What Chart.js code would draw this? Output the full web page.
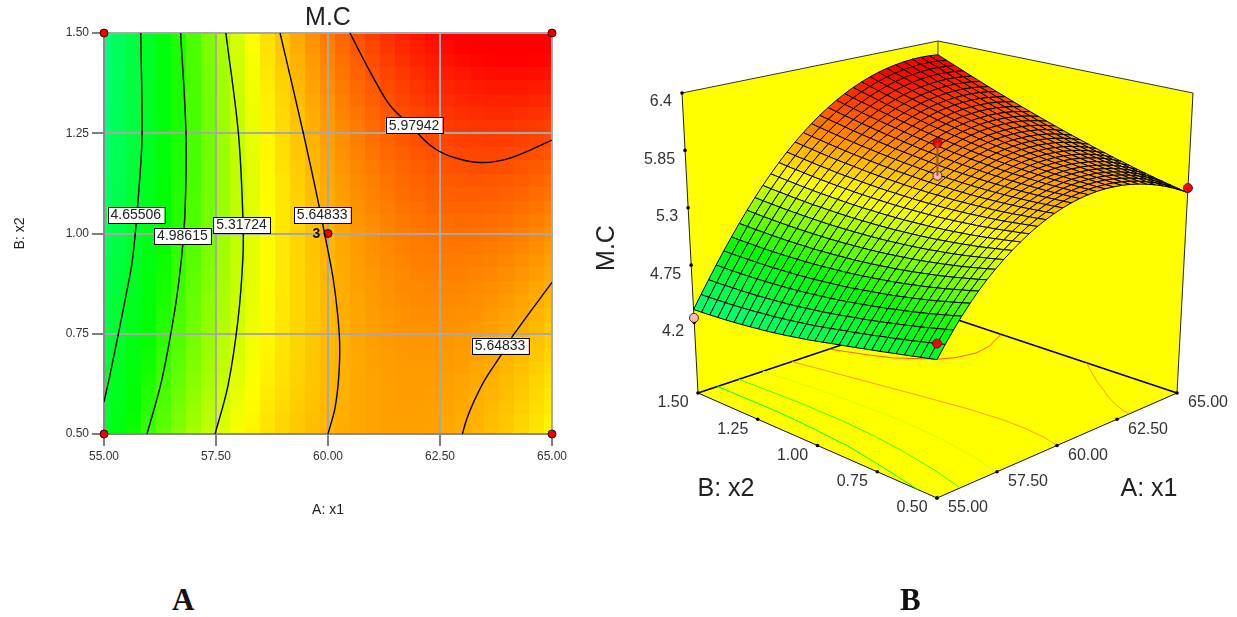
<!DOCTYPE html>
<html><head><meta charset="utf-8">
<script src="https://cdn.jsdelivr.net/npm/chart.js@4"></script>
<style>
html,body{margin:0;padding:0;background:#fff;width:1237px;height:617px;overflow:hidden}
canvas{position:absolute;top:0}
#ca{left:0}#cb{left:585px}
.letter{position:absolute;font:bold 31px "Liberation Serif",serif;color:#111;top:582px;line-height:36px}
</style></head><body>
<canvas id="cb" width="652" height="617"></canvas>
<canvas id="ca" width="585" height="525"></canvas>
<div class="letter" style="left:172px">A</div>
<div class="letter" style="left:900px">B</div>
<script>
// ---------- data ----------
const x1Grid=[55,55.333,55.667,56,56.333,56.667,57,57.333,57.667,58,58.333,58.667,59,59.333,59.667,60,60.333,60.667,61,61.333,61.667,62,62.333,62.667,63,63.333,63.667,64,64.333,64.667,65];
const x2Grid=[0.5,0.533,0.567,0.6,0.633,0.667,0.7,0.733,0.767,0.8,0.833,0.867,0.9,0.933,0.967,1,1.033,1.067,1.1,1.133,1.167,1.2,1.233,1.267,1.3,1.333,1.367,1.4,1.433,1.467,1.5];
// M.C estimates: one row per x2 value (0.50 first), one column per x1 value
const mcRows=[
[4.685,4.788,4.886,4.980,5.066,5.147,5.221,5.288,5.350,5.407,5.459,5.508,5.551,5.589,5.622,5.650,5.673,5.690,5.703,5.710,5.712,5.708,5.700,5.686,5.667,5.643,5.614,5.580,5.540,5.495,5.445],
[4.670,4.771,4.868,4.961,5.047,5.128,5.202,5.271,5.334,5.393,5.446,5.496,5.541,5.580,5.615,5.644,5.668,5.687,5.701,5.710,5.713,5.710,5.704,5.691,5.674,5.651,5.623,5.591,5.552,5.509,5.460],
[4.655,4.755,4.851,4.943,5.029,5.111,5.186,5.256,5.320,5.380,5.435,5.487,5.533,5.573,5.609,5.640,5.666,5.686,5.701,5.711,5.716,5.715,5.710,5.698,5.682,5.661,5.635,5.604,5.566,5.524,5.477],
[4.640,4.739,4.834,4.926,5.012,5.094,5.170,5.240,5.307,5.368,5.424,5.477,5.524,5.567,5.604,5.636,5.663,5.684,5.702,5.713,5.719,5.719,5.715,5.706,5.691,5.671,5.646,5.616,5.581,5.540,5.494],
[4.625,4.722,4.816,4.908,4.994,5.076,5.154,5.225,5.293,5.355,5.413,5.468,5.516,5.560,5.598,5.632,5.661,5.683,5.702,5.714,5.722,5.724,5.721,5.713,5.699,5.681,5.658,5.629,5.595,5.555,5.511],
[4.610,4.707,4.801,4.892,4.978,5.061,5.139,5.212,5.281,5.345,5.404,5.460,5.510,5.555,5.595,5.630,5.660,5.684,5.704,5.718,5.727,5.730,5.729,5.722,5.710,5.693,5.671,5.644,5.611,5.573,5.530],
[4.595,4.690,4.784,4.876,4.963,5.045,5.124,5.199,5.269,5.335,5.395,5.452,5.504,5.550,5.592,5.628,5.659,5.685,5.706,5.722,5.732,5.736,5.737,5.731,5.721,5.705,5.684,5.659,5.627,5.591,5.549],
[4.580,4.676,4.770,4.861,4.948,5.032,5.113,5.188,5.259,5.326,5.388,5.447,5.500,5.547,5.590,5.628,5.661,5.688,5.710,5.727,5.739,5.745,5.747,5.742,5.733,5.719,5.700,5.676,5.645,5.610,5.570],
[4.565,4.661,4.754,4.847,4.934,5.018,5.100,5.176,5.250,5.318,5.381,5.441,5.495,5.545,5.589,5.628,5.662,5.690,5.715,5.733,5.746,5.753,5.756,5.754,5.746,5.733,5.715,5.692,5.664,5.630,5.591],
[4.550,4.645,4.739,4.831,4.919,5.005,5.088,5.165,5.240,5.309,5.374,5.436,5.491,5.542,5.587,5.628,5.664,5.693,5.719,5.738,5.753,5.762,5.766,5.765,5.758,5.747,5.731,5.709,5.682,5.649,5.612],
[4.535,4.631,4.725,4.818,4.907,4.993,5.077,5.156,5.232,5.303,5.369,5.432,5.489,5.541,5.588,5.630,5.667,5.698,5.725,5.746,5.762,5.772,5.778,5.778,5.773,5.763,5.748,5.728,5.702,5.671,5.635],
[4.520,4.615,4.711,4.804,4.895,4.982,5.066,5.147,5.224,5.297,5.364,5.428,5.487,5.540,5.589,5.632,5.670,5.703,5.731,5.754,5.771,5.782,5.790,5.791,5.788,5.779,5.765,5.747,5.722,5.693,5.658],
[4.506,4.603,4.698,4.792,4.884,4.972,5.058,5.140,5.218,5.292,5.361,5.427,5.487,5.541,5.591,5.636,5.676,5.710,5.739,5.763,5.782,5.795,5.804,5.806,5.804,5.797,5.785,5.768,5.744,5.716,5.683],
[4.491,4.588,4.685,4.781,4.873,4.962,5.049,5.132,5.213,5.288,5.358,5.425,5.486,5.543,5.594,5.640,5.681,5.716,5.748,5.773,5.793,5.807,5.817,5.822,5.821,5.815,5.804,5.788,5.767,5.740,5.708],
[4.475,4.574,4.671,4.768,4.861,4.952,5.041,5.125,5.207,5.283,5.355,5.424,5.486,5.544,5.596,5.644,5.687,5.723,5.756,5.782,5.804,5.820,5.831,5.837,5.837,5.833,5.824,5.809,5.789,5.763,5.733],
[4.460,4.560,4.659,4.757,4.852,4.944,5.034,5.120,5.203,5.281,5.354,5.424,5.488,5.547,5.601,5.650,5.694,5.732,5.766,5.794,5.817,5.834,5.847,5.854,5.856,5.853,5.845,5.832,5.813,5.789,5.760],
[4.445,4.546,4.647,4.746,4.843,4.936,5.027,5.115,5.199,5.279,5.353,5.424,5.490,5.550,5.606,5.656,5.701,5.741,5.776,5.806,5.830,5.848,5.863,5.871,5.875,5.873,5.866,5.855,5.837,5.815,5.787],
[4.432,4.535,4.637,4.737,4.835,4.930,5.023,5.112,5.197,5.278,5.354,5.427,5.494,5.555,5.612,5.664,5.711,5.752,5.788,5.819,5.845,5.865,5.881,5.890,5.895,5.895,5.890,5.880,5.863,5.842,5.816],
[4.419,4.523,4.626,4.729,4.828,4.924,5.018,5.108,5.196,5.278,5.355,5.429,5.497,5.561,5.619,5.672,5.720,5.762,5.801,5.833,5.860,5.881,5.898,5.910,5.916,5.917,5.913,5.904,5.890,5.870,5.845],
[4.406,4.512,4.616,4.720,4.820,4.918,5.014,5.105,5.194,5.277,5.356,5.432,5.501,5.566,5.625,5.680,5.730,5.773,5.813,5.846,5.875,5.898,5.916,5.929,5.936,5.939,5.937,5.929,5.916,5.897,5.874],
[4.395,4.502,4.608,4.713,4.815,4.914,5.011,5.104,5.194,5.279,5.359,5.436,5.507,5.573,5.634,5.690,5.741,5.786,5.827,5.862,5.892,5.916,5.936,5.950,5.959,5.963,5.962,5.956,5.944,5.927,5.905],
[4.384,4.492,4.600,4.706,4.810,4.910,5.008,5.103,5.194,5.281,5.362,5.440,5.513,5.580,5.643,5.700,5.752,5.799,5.841,5.878,5.909,5.934,5.956,5.971,5.982,5.987,5.987,5.983,5.972,5.957,5.936],
[4.375,4.485,4.594,4.701,4.806,4.908,5.008,5.104,5.196,5.284,5.367,5.447,5.521,5.589,5.653,5.712,5.766,5.814,5.857,5.895,5.928,5.955,5.978,5.994,6.006,6.013,6.015,6.012,6.002,5.988,5.969],
[4.366,4.477,4.587,4.697,4.803,4.906,5.007,5.104,5.199,5.288,5.372,5.453,5.528,5.599,5.664,5.724,5.779,5.828,5.874,5.913,5.947,5.975,5.999,6.018,6.031,6.039,6.042,6.040,6.033,6.020,6.002],
[4.357,4.470,4.581,4.692,4.799,4.904,5.007,5.105,5.201,5.291,5.377,5.460,5.536,5.608,5.674,5.736,5.793,5.843,5.890,5.930,5.966,5.996,6.021,6.041,6.055,6.065,6.070,6.069,6.063,6.051,6.035],
[4.350,4.464,4.577,4.689,4.798,4.904,5.008,5.108,5.205,5.297,5.384,5.468,5.546,5.619,5.687,5.750,5.808,5.860,5.908,5.950,5.987,6.018,6.045,6.066,6.082,6.093,6.099,6.100,6.095,6.085,6.070],
[4.343,4.458,4.573,4.686,4.797,4.904,5.009,5.111,5.209,5.303,5.391,5.476,5.556,5.630,5.700,5.764,5.823,5.877,5.926,5.970,6.008,6.040,6.069,6.091,6.109,6.121,6.128,6.131,6.127,6.119,6.105],
[4.338,4.455,4.571,4.685,4.797,4.906,5.013,5.116,5.215,5.310,5.400,5.487,5.568,5.643,5.714,5.780,5.841,5.896,5.946,5.991,6.031,6.065,6.095,6.118,6.137,6.151,6.160,6.164,6.161,6.154,6.142],
[4.333,4.451,4.568,4.685,4.798,4.908,5.016,5.120,5.222,5.318,5.409,5.497,5.579,5.657,5.729,5.796,5.858,5.914,5.967,6.013,6.054,6.089,6.120,6.146,6.166,6.181,6.191,6.196,6.196,6.190,6.179],
[4.328,4.448,4.566,4.684,4.798,4.910,5.020,5.125,5.228,5.325,5.418,5.508,5.591,5.670,5.743,5.812,5.876,5.933,5.987,6.034,6.077,6.114,6.146,6.173,6.194,6.211,6.223,6.229,6.230,6.225,6.216],
[4.325,4.446,4.566,4.685,4.801,4.914,5.025,5.132,5.236,5.335,5.429,5.520,5.605,5.685,5.760,5.830,5.895,5.954,6.009,6.058,6.102,6.140,6.174,6.202,6.225,6.243,6.256,6.264,6.266,6.263,6.255]
];
// contour lines (x1, x2 pairs)
const levels=[4.65506,4.98615,5.31724,5.64833,5.64833,5.97942];
const contourX1=[
[55.82,55.85,55.80,55.64,55.47,55.27,55.11,55],
[56.71,56.83,56.81,56.73,56.58,56.29,55.96],
[57.72,58.0,58.10,58.10,57.99,57.77,57.48],
[58.93,59.45,59.82,59.93,60.12,60.25,60.25,60.16,60.0],
[63.0,63.09,63.24,63.50,63.84,64.14,65],
[60.49,60.98,61.38,61.83,62.28,62.72,63.39,64.06,65]];
const contourX2=[
[1.5,1.25,1.14,0.939,0.834,0.722,0.635,0.58],
[1.5,1.25,1.059,0.939,0.809,0.635,0.5],
[1.5,1.25,1.041,0.939,0.784,0.622,0.5],
[1.5,1.25,1.059,0.996,0.884,0.752,0.66,0.567,0.5],
[0.5,0.535,0.577,0.635,0.693,0.747,0.878],
[1.5,1.395,1.32,1.27,1.22,1.193,1.177,1.188,1.233]];
const labelText=["4.65506","4.98615","5.31724","5.64833","5.64833","5.97942"];
const labelX1=[55.71,56.75,58.07,59.87,63.84,61.92];
const labelX2=[1.046,0.994,1.021,1.046,0.72,1.27];
// design points
const designX1=[55,65,55,65,60];
const designX2=[0.5,0.5,1.5,1.5,1];
// points on the 3D view
const ptX1=[55,55,65,60,60];
const ptX2=[0.5,1.5,0.5,1,1];
const ptZ=[4.82,4.245,5.49,5.95,5.64];
const ptColor=["#ff0000","#ffb6b6","#ff0000","#ff0000","#ffb6b6"];
// axis ticks
const x1Ticks=[55,57.5,60,62.5,65];
const x2Ticks=[0.5,0.75,1,1.25,1.5];
const zTicks=[4.2,4.75,5.3,5.85,6.4];
const zLabels=["4.2","4.75","5.3","5.85","6.4"];

// ---------- colour ramp ----------
const stops=[[4.3,0,255,128],[4.85,0,255,0],[5.42,255,255,0],[6.2,255,0,0]];
function heat(z){
  if(z<=stops[0][0])return `rgb(${stops[0][1]},${stops[0][2]},${stops[0][3]})`;
  for(let i=1;i<stops.length;i++){
    if(z<=stops[i][0]){
      const a=stops[i-1],b=stops[i],t=(z-a[0])/(b[0]-a[0]);
      return `rgb(${a[1]+(b[1]-a[1])*t},${a[2]+(b[2]-a[2])*t},${a[3]+(b[3]-a[3])*t})`;
    }
  }
  return 'rgb(255,0,0)';
}
const FONT='"Liberation Sans",Arial,sans-serif';

// ---------- panel A ----------
const heatPlugin={id:'heat',beforeDraw(c){
  const g=c.ctx,sx=c.scales.x,sy=c.scales.y,n=x1Grid.length,m=x2Grid.length;
  const edge=(arr,i)=>i<=0?arr[0]:i>=arr.length?arr[arr.length-1]:(arr[i-1]+arr[i])/2;
  for(let j=0;j<m;j++)for(let i=0;i<n;i++){
    const l=sx.getPixelForValue(edge(x1Grid,i)),r=sx.getPixelForValue(edge(x1Grid,i+1));
    const b=sy.getPixelForValue(edge(x2Grid,j)),t=sy.getPixelForValue(edge(x2Grid,j+1));
    g.fillStyle=heat(mcRows[j][i]);
    g.fillRect(Math.floor(l),Math.floor(t),Math.ceil(r)-Math.floor(l),Math.ceil(b)-Math.floor(t));
  }
}};
const labelPlugin={id:'labels',afterDatasetsDraw(c){
  const g=c.ctx,sx=c.scales.x,sy=c.scales.y;
  g.save();g.font='14px '+FONT;g.textAlign='center';g.textBaseline='middle';
  labelText.forEach((s,i)=>{
    const x=sx.getPixelForValue(labelX1[i]),y=sy.getPixelForValue(labelX2[i]);
    const w=g.measureText(s).width+6;
    g.fillStyle='#fff';g.strokeStyle='#000';g.lineWidth=1;
    g.fillRect(x-w/2,y-8,w,16);g.strokeRect(Math.round(x-w/2)+.5,Math.round(y-8)+.5,Math.round(w),16);
    g.fillStyle='#222';g.fillText(s,x,y+.5);
  });
  g.font='bold 14px '+FONT;g.fillStyle='#111';
  g.fillText('3',sx.getPixelForValue(59.74),sy.getPixelForValue(0.998));
  g.restore();
}};
const contourSets=contourX1.map((xs,i)=>({
  type:'scatter',showLine:true,fill:false,tension:0.35,borderColor:'#000',borderWidth:1.4,pointRadius:0,
  data:xs.map((x,k)=>({x,y:contourX2[i][k]}))
}));
new Chart(document.getElementById('ca'),{
  type:'scatter',
  data:{datasets:[...contourSets,{
    label:'Design points',data:designX1.map((x,i)=>({x,y:designX2[i]})),
    pointRadius:4,pointBackgroundColor:'#f00000',pointBorderColor:'#400',pointBorderWidth:1,clip:false,showLine:false
  }]},
  plugins:[heatPlugin,labelPlugin],
  options:{
    responsive:false,animation:false,
    layout:{padding:{left:0,right:33,top:0,bottom:0},autoPadding:false},
    plugins:{legend:{display:false},tooltip:{enabled:false},
      title:{display:true,fullSize:false,text:'M.C',color:'#222',font:{family:FONT,size:25,weight:'normal'},padding:{top:3,bottom:0}}},
    scales:{
      x:{type:'linear',min:55,max:65,afterFit(s){s.height=91;},
        afterBuildTicks(s){s.ticks=x1Ticks.map(v=>({value:v}));},
        grid:{color:'#a8a8a8',lineWidth:2,tickLength:12,tickColor:'#000',tickWidth:1},border:{color:'#8a8a8a',width:2},
        ticks:{font:{family:FONT,size:12},color:'#333',maxRotation:0,callback:v=>v.toFixed(2)},
        title:{display:true,text:'A: x1',color:'#222',font:{family:FONT,size:14},padding:{top:0,bottom:6.6}}},
      y:{type:'linear',min:0.5,max:1.5,afterFit(s){s.width=104;},
        afterBuildTicks(s){s.ticks=x2Ticks.map(v=>({value:v}));},
        grid:{color:'#a8a8a8',lineWidth:2,tickLength:12,tickColor:'#000',tickWidth:1},border:{color:'#8a8a8a',width:2},
        ticks:{font:{family:FONT,size:12},color:'#333',callback:v=>v.toFixed(2)},
        title:{display:true,text:'B: x2',color:'#222',font:{family:FONT,size:14},padding:{top:11.6,bottom:0}}}
    }
  }
});

// ---------- panel B: view box of the 3D plot ----------
const view={floor:{F:[937,498],R:[1177,393],L:[698,393],B:[937,313]},
            top:{F:[937,155],R:[1193,93],L:[682,93],B:[938,41]},zMin:3.525,zMax:6.4};
function bilin(q,u,v,n){return (1-u)*(1-v)*q.F[n]+u*(1-v)*q.R[n]+(1-u)*v*q.L[n]+u*v*q.B[n];}
function project(x1,x2,z){
  const u=(x1-55)/10,v=(x2-0.5),t=(z-view.zMin)/(view.zMax-view.zMin);
  return {x:(1-t)*bilin(view.floor,u,v,0)+t*bilin(view.top,u,v,0),
          y:(1-t)*bilin(view.floor,u,v,1)+t*bilin(view.top,u,v,1)};
}
const boxPlugin={id:'box',beforeDatasetsDraw(c){
  const g=c.ctx,sx=c.scales.x,sy=c.scales.y;
  const P=(x1,x2,z)=>{const p=project(x1,x2,z);return [sx.getPixelForValue(p.x),sy.getPixelForValue(p.y)];};
  const Z0=view.zMin,Z1=view.zMax;
  const poly=(pts)=>{g.beginPath();pts.forEach((p,i)=>i?g.lineTo(p[0],p[1]):g.moveTo(p[0],p[1]));g.closePath();};
  const seg=(a,b,w,col)=>{g.beginPath();g.moveTo(a[0],a[1]);g.lineTo(b[0],b[1]);g.lineWidth=w;g.strokeStyle=col;g.stroke();};
  g.save();
  const fL=P(55,1.5,Z0),fR=P(65,.5,Z0),fF=P(55,.5,Z0),fB=P(65,1.5,Z0),tL=P(55,1.5,Z1),tR=P(65,.5,Z1),tB=P(65,1.5,Z1);
  g.fillStyle='#ffff00';
  poly([fL,fB,tB,tL]);g.fill();
  poly([fR,fB,tB,tR]);g.fill();
  poly([fF,fR,fB,fL]);g.fill();
  // wall edges
  seg(tL,tB,1,'#333');seg(tB,tR,1,'#333');seg(tL,fL,1,'#222');seg(tR,fR,1,'#222');seg(tB,fB,1,'#444');
  seg(fL,fF,1,'#111');seg(fR,fF,1,'#111');seg(fL,fB,1.5,'#000');seg(fR,fB,1.5,'#000');
  // contours on the floor
  contourX1.forEach((xs,i)=>{
    g.beginPath();
    xs.forEach((x,k)=>{const p=P(x,contourX2[i][k],Z0);k?g.lineTo(p[0],p[1]):g.moveTo(p[0],p[1]);});
    g.lineWidth=1;g.strokeStyle=i>=3?(i==5?'#ff5a00':'#ff9c20'):heat(levels[i]);g.stroke();
  });
  // ticks + labels
  const dot=p=>{g.beginPath();g.arc(p[0],p[1],1.8,0,7);g.fillStyle='#000';g.fill();};
  g.font='16px '+FONT;g.textBaseline='middle';
  zTicks.forEach((z,i)=>{const p=P(55,1.5,z);dot(p);g.fillStyle='#333';g.textAlign='right';g.fillText(zLabels[i],p[0]-10,p[1]+9);});
  x1Ticks.forEach(v=>{const p=P(v,.5,Z0);dot(p);g.fillStyle='#333';g.textAlign='center';g.fillText(v.toFixed(2),p[0]+31,p[1]+10);});
  x2Ticks.forEach(v=>{const p=P(55,v,Z0);dot(p);g.fillStyle='#333';g.textAlign='center';g.fillText(v.toFixed(2),p[0]-25,p[1]+10);});
  // axis titles
  g.fillStyle='#222';g.font='25px '+FONT;g.textAlign='center';
  g.fillText('B: x2',sx.getPixelForValue(726),sy.getPixelForValue(489));
  g.fillText('A: x1',sx.getPixelForValue(1149),sy.getPixelForValue(489));
  g.save();g.translate(sx.getPixelForValue(607),sy.getPixelForValue(248));g.rotate(-Math.PI/2);g.fillText('M.C',0,0);g.restore();
  // surface, back to front
  g.lineWidth=1;g.strokeStyle='#000';g.lineJoin='round';
  for(let i=x1Grid.length-2;i>=0;i--)for(let j=x2Grid.length-2;j>=0;j--){
    const a=P(x1Grid[i],x2Grid[j],mcRows[j][i]),b=P(x1Grid[i+1],x2Grid[j],mcRows[j][i+1]),
          d=P(x1Grid[i+1],x2Grid[j+1],mcRows[j+1][i+1]),e=P(x1Grid[i],x2Grid[j+1],mcRows[j+1][i]);
    poly([a,b,d,e]);
    g.fillStyle=heat((mcRows[j][i]+mcRows[j][i+1]+mcRows[j+1][i+1]+mcRows[j+1][i])/4);
    g.fill();g.stroke();
  }
  g.restore();
}};
const ptData=ptX1.map((x,i)=>project(x,ptX2[i],ptZ[i]));
new Chart(document.getElementById('cb'),{
  type:'scatter',
  data:{datasets:[
    {label:'stem',data:[ptData[3],ptData[4]],showLine:true,borderColor:'#a05a20',borderWidth:2,pointRadius:0},
    {label:'points',data:ptData,showLine:false,pointRadius:4.5,pointBackgroundColor:ptColor,pointBorderColor:'#402020',pointBorderWidth:1,clip:false}
  ]},
  plugins:[boxPlugin],
  options:{
    responsive:false,animation:false,layout:{padding:0,autoPadding:false},
    plugins:{legend:{display:false},tooltip:{enabled:false},title:{display:false}},
    scales:{x:{type:'linear',min:585,max:1237,display:false},y:{type:'linear',min:0,max:617,reverse:true,display:false}}
  }
});
</script>
</body></html>
